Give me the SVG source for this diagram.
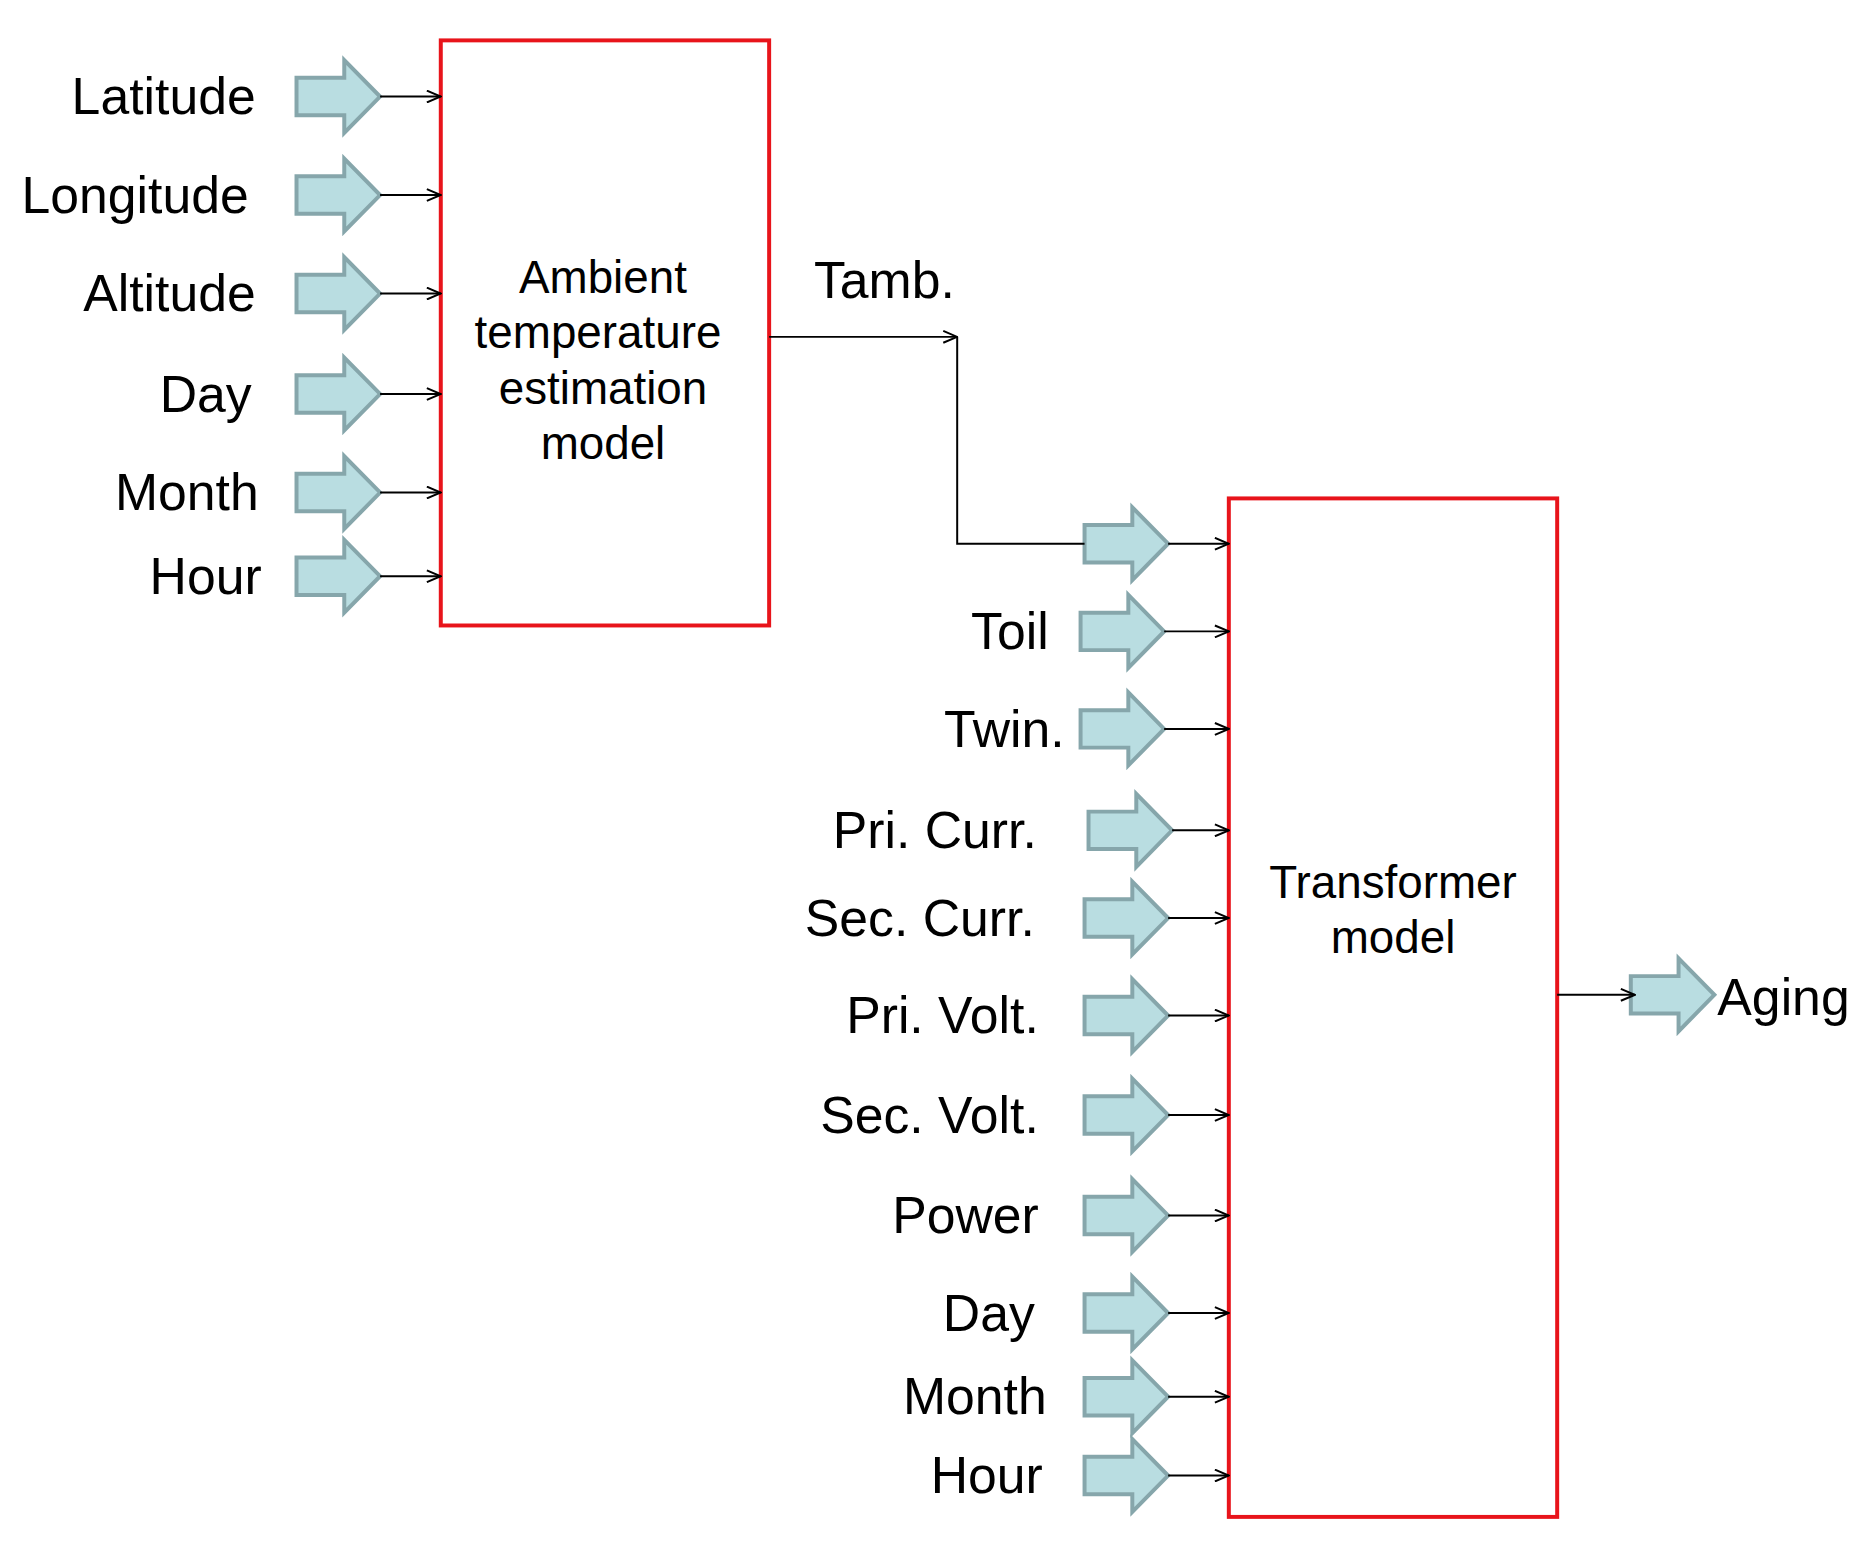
<svg xmlns="http://www.w3.org/2000/svg" width="1870" height="1545" viewBox="0 0 1870 1545">
<style>
text{font-family:"Liberation Sans",Arial,sans-serif;font-size:52px;fill:#000}
.lbl{text-anchor:end}
.c{text-anchor:middle;font-size:46px}
.ba{fill:#b9dde1;stroke:#86a6ab;stroke-width:4}
.box{fill:#fff;stroke:#e8141b;stroke-width:4}
.ln{stroke:#000;stroke-width:2;fill:none;marker-end:url(#ah)}
</style>
<defs>
<marker id="ah" markerWidth="16" markerHeight="14" refX="15" refY="7" orient="auto" markerUnits="userSpaceOnUse"><path d="M1,1 L15,7 L1,13" fill="none" stroke="#000" stroke-width="2"/></marker>
<path id="blk" d="M0,-19 H48 V-37 L84,0 L48,37 V19 H0 Z"/>
</defs>
<g transform="matrix(0.995,0,0,0.985,0,0)">
<g id="ambient"><rect class="box" x="443" y="41" width="330" height="594"/>
<text class="c" x="606" y="297">Ambient</text><text class="c" x="601" y="353">temperature</text><text class="c" x="606" y="410">estimation</text><text class="c" x="606" y="466">model</text></g>
<g id="transformer"><rect class="box" x="1235" y="506" width="330" height="1034"/>
<text class="c" x="1400" y="912">Transformer</text><text class="c" x="1400" y="968">model</text></g>
<g id="inputs-left">
<use href="#blk" class="ba" x="298" y="98"/><text class="lbl" x="257" y="116">Latitude</text>
<use href="#blk" class="ba" x="298" y="198"/><text class="lbl" x="250" y="216">Longitude</text>
<use href="#blk" class="ba" x="298" y="298"/><text class="lbl" x="257" y="316">Altitude</text>
<use href="#blk" class="ba" x="298" y="400"/><text class="lbl" x="253" y="418">Day</text>
<use href="#blk" class="ba" x="298" y="500"/><text class="lbl" x="260" y="518">Month</text>
<use href="#blk" class="ba" x="298" y="585"/><text class="lbl" x="263" y="603">Hour</text>
</g>
<g id="inputs-right">
<use href="#blk" class="ba" x="1090" y="552"/>
<use href="#blk" class="ba" x="1086" y="641"/><text class="lbl" x="1054" y="659">Toil</text>
<use href="#blk" class="ba" x="1086" y="740"/><text class="lbl" x="1070" y="758">Twin.</text>
<use href="#blk" class="ba" x="1094" y="843"/><text class="lbl" x="1042" y="861">Pri. Curr.</text>
<use href="#blk" class="ba" x="1090" y="932"/><text class="lbl" x="1040" y="950">Sec. Curr.</text>
<use href="#blk" class="ba" x="1090" y="1031"/><text class="lbl" x="1044" y="1049">Pri. Volt.</text>
<use href="#blk" class="ba" x="1090" y="1132"/><text class="lbl" x="1044" y="1150">Sec. Volt.</text>
<use href="#blk" class="ba" x="1090" y="1234"/><text class="lbl" x="1044" y="1252">Power</text>
<use href="#blk" class="ba" x="1090" y="1333"/><text class="lbl" x="1040" y="1351">Day</text>
<use href="#blk" class="ba" x="1090" y="1418"/><text class="lbl" x="1052" y="1436">Month</text>
<use href="#blk" class="ba" x="1090" y="1498"/><text class="lbl" x="1048" y="1516">Hour</text>
</g>
<g id="output"><use href="#blk" class="ba" x="1639" y="1010"/><text x="1726" y="1030">Aging</text></g>
<text x="818" y="303">Tamb.</text>
<g id="connectors">
<path class="ln" d="M382,98H443"/><path class="ln" d="M382,198H443"/><path class="ln" d="M382,298H443"/><path class="ln" d="M382,400H443"/><path class="ln" d="M382,500H443"/><path class="ln" d="M382,585H443"/>
<path class="ln" d="M773,342H962"/><path d="M962,342V552H1090" stroke="#000" stroke-width="2" fill="none"/>
<path class="ln" d="M1174,552H1235"/><path class="ln" d="M1170,641H1235"/><path class="ln" d="M1170,740H1235"/><path class="ln" d="M1178,843H1235"/><path class="ln" d="M1174,932H1235"/><path class="ln" d="M1174,1031H1235"/><path class="ln" d="M1174,1132H1235"/><path class="ln" d="M1174,1234H1235"/><path class="ln" d="M1174,1333H1235"/><path class="ln" d="M1174,1418H1235"/><path class="ln" d="M1174,1498H1235"/>
<path class="ln" d="M1565,1010H1643"/>
</g>
</g>
</svg>
